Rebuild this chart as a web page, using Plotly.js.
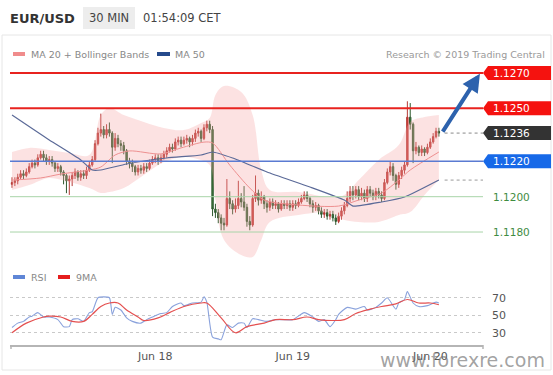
<!DOCTYPE html>
<html><head><meta charset="utf-8">
<script src="https://cdn.plot.ly/plotly-3.0.1.min.js"></script>
<style>html,body{margin:0;padding:0;background:#fff;}#chart{width:553px;height:375px;}</style>
</head><body><div id="chart"></div>
<script>
// ---------- DATA ----------
const candleStart = '2019-06-16 23:00';   // first 30-min candle, then every 30 minutes
const openP = [
1.1207,1.1208,1.1209,1.1211,1.1213,1.1212,1.1214,1.1217,1.1219,1.1218,
1.1222,1.1224,1.1222,1.1220,1.1221,1.1219,1.1216,1.1217,1.1214,1.1212,
1.1209,1.1210,1.1212,1.1214,1.1211,1.1213,1.1212,1.1215,1.1218,1.1221,
1.1230,1.1236,1.1238,1.1235,1.1238,1.1236,1.1228,1.1233,1.1230,1.1229,
1.1226,1.1220,1.1219,1.1217,1.1214,1.1216,1.1215,1.1217,1.1216,1.1219,
1.1221,1.1222,1.1220,1.1222,1.1224,1.1226,1.1228,1.1227,1.1231,1.1232,
1.1230,1.1232,1.1233,1.1231,1.1233,1.1236,1.1237,1.1233,1.1239,1.1241,
1.1238,1.1193,1.1191,1.1188,1.1185,1.1184,1.1199,1.1196,1.1193,1.1195,
1.1199,1.1197,1.1194,1.1186,1.1184,1.1199,1.1202,1.1198,1.1200,1.1196,
1.1194,1.1197,1.1195,1.1196,1.1193,1.1196,1.1195,1.1196,1.1194,1.1196,
1.1195,1.1197,1.1199,1.1201,1.1199,1.1196,1.1194,1.1195,1.1192,1.1190,
1.1191,1.1189,1.1190,1.1188,1.1186,1.1189,1.1192,1.1195,1.1199,1.1203,
1.1201,1.1204,1.1200,1.1202,1.1199,1.1204,1.1202,1.1200,1.1203,1.1201,
1.1199,1.1208,1.1214,1.1217,1.1212,1.1207,1.1212,1.1215,1.1218,1.1245,
1.1241,1.1226,1.1228,1.1225,1.1227,1.1225,1.1228,1.1231,1.1234,1.1237];
const highP = [
1.1211,1.1211,1.1213,1.1215,1.1215,1.1216,1.1219,1.1221,1.1221,1.1224,
1.1226,1.1226,1.1224,1.1223,1.1223,1.1220,1.1219,1.1218,1.1215,1.1213,
1.1212,1.1214,1.1216,1.1215,1.1215,1.1215,1.1217,1.1220,1.1223,1.1232,
1.1239,1.1247,1.1240,1.1241,1.1242,1.1237,1.1236,1.1235,1.1232,1.1231,
1.1227,1.1222,1.1221,1.1218,1.1218,1.1218,1.1219,1.1219,1.1221,1.1223,
1.1224,1.1224,1.1224,1.1226,1.1228,1.1230,1.1230,1.1233,1.1234,1.1234,
1.1234,1.1235,1.1234,1.1235,1.1238,1.1239,1.1238,1.1241,1.1243,1.1243,
1.1240,1.1196,1.1193,1.1190,1.1188,1.1210,1.1203,1.1198,1.1199,1.1209,
1.1202,1.1206,1.1196,1.1189,1.1201,1.1212,1.1204,1.1203,1.1201,1.1198,
1.1199,1.1199,1.1198,1.1197,1.1198,1.1198,1.1198,1.1198,1.1198,1.1198,
1.1199,1.1201,1.1203,1.1203,1.1200,1.1198,1.1197,1.1196,1.1194,1.1193,
1.1193,1.1192,1.1192,1.1190,1.1191,1.1194,1.1197,1.1203,1.1206,1.1206,
1.1206,1.1206,1.1205,1.1204,1.1206,1.1206,1.1204,1.1205,1.1205,1.1203,
1.1210,1.1216,1.1220,1.1219,1.1213,1.1214,1.1217,1.1220,1.1254,1.1253,
1.1242,1.1231,1.1229,1.1229,1.1228,1.1230,1.1233,1.1236,1.1239,1.1239];
const lowP = [
1.1205,1.1206,1.1207,1.1210,1.1210,1.1211,1.1213,1.1216,1.1216,1.1217,
1.1221,1.1220,1.1218,1.1218,1.1217,1.1214,1.1214,1.1212,1.1207,1.1202,
1.1201,1.1206,1.1210,1.1209,1.1209,1.1210,1.1210,1.1214,1.1217,1.1220,
1.1229,1.1234,1.1233,1.1233,1.1234,1.1219,1.1226,1.1228,1.1226,1.1224,
1.1218,1.1216,1.1214,1.1212,1.1212,1.1213,1.1213,1.1214,1.1215,1.1218,
1.1219,1.1218,1.1219,1.1221,1.1222,1.1225,1.1225,1.1226,1.1229,1.1228,
1.1229,1.1230,1.1228,1.1229,1.1231,1.1234,1.1231,1.1232,1.1237,1.1236,
1.1189,1.1188,1.1185,1.1181,1.1181,1.1183,1.1193,1.1190,1.1191,1.1193,
1.1194,1.1192,1.1183,1.1181,1.1183,1.1197,1.1195,1.1196,1.1193,1.1191,
1.1192,1.1193,1.1193,1.1191,1.1192,1.1193,1.1193,1.1192,1.1192,1.1193,
1.1194,1.1196,1.1198,1.1197,1.1194,1.1191,1.1192,1.1190,1.1188,1.1188,
1.1187,1.1187,1.1186,1.1184,1.1185,1.1187,1.1190,1.1194,1.1197,1.1198,
1.1199,1.1198,1.1198,1.1197,1.1197,1.1200,1.1198,1.1198,1.1199,1.1197,
1.1198,1.1207,1.1212,1.1209,1.1204,1.1205,1.1210,1.1213,1.1217,1.1238,
1.1219,1.1224,1.1223,1.1223,1.1223,1.1224,1.1227,1.1230,1.1233,1.1234];
const closeP = [
1.1208,1.1209,1.1211,1.1213,1.1212,1.1214,1.1217,1.1219,1.1218,1.1222,
1.1224,1.1222,1.1220,1.1221,1.1219,1.1216,1.1217,1.1214,1.1212,1.1209,
1.1210,1.1212,1.1214,1.1211,1.1213,1.1212,1.1215,1.1218,1.1221,1.1230,
1.1236,1.1238,1.1235,1.1238,1.1236,1.1228,1.1233,1.1230,1.1229,1.1226,
1.1220,1.1219,1.1217,1.1214,1.1216,1.1215,1.1217,1.1216,1.1219,1.1221,
1.1222,1.1220,1.1222,1.1224,1.1226,1.1228,1.1227,1.1231,1.1232,1.1230,
1.1232,1.1233,1.1231,1.1233,1.1236,1.1237,1.1233,1.1239,1.1241,1.1238,
1.1193,1.1191,1.1188,1.1185,1.1184,1.1199,1.1196,1.1193,1.1195,1.1199,
1.1197,1.1194,1.1186,1.1184,1.1199,1.1202,1.1198,1.1200,1.1196,1.1194,
1.1197,1.1195,1.1196,1.1193,1.1196,1.1195,1.1196,1.1194,1.1196,1.1195,
1.1197,1.1199,1.1201,1.1199,1.1196,1.1194,1.1195,1.1192,1.1190,1.1191,
1.1189,1.1190,1.1188,1.1186,1.1189,1.1192,1.1195,1.1199,1.1203,1.1201,
1.1204,1.1200,1.1202,1.1199,1.1204,1.1202,1.1200,1.1203,1.1201,1.1199,
1.1208,1.1214,1.1217,1.1212,1.1207,1.1212,1.1215,1.1218,1.1245,1.1241,
1.1226,1.1228,1.1225,1.1227,1.1225,1.1228,1.1231,1.1234,1.1237,1.1236];

const bandTime = ['2019-06-16 23:00','2019-06-17 02:00','2019-06-17 05:30','2019-06-17 09:00','2019-06-17 12:30',
 '2019-06-17 14:30','2019-06-17 16:00','2019-06-17 18:30','2019-06-17 22:00','2019-06-18 01:30','2019-06-18 05:00',
 '2019-06-18 08:00','2019-06-18 09:30','2019-06-18 10:30','2019-06-18 12:00','2019-06-18 15:00','2019-06-18 17:00',
 '2019-06-18 18:30','2019-06-18 20:00','2019-06-19 01:00','2019-06-19 06:30','2019-06-19 09:00','2019-06-19 11:30',
 '2019-06-19 15:00','2019-06-19 18:30','2019-06-19 20:30','2019-06-19 23:00','2019-06-20 01:30'];
const bandUpper = [1.12253,1.12276,1.12264,1.12247,1.12236,1.12462,1.12502,1.12462,1.12423,1.12389,1.12377,
 1.12417,1.12445,1.12575,1.12626,1.12592,1.12462,1.12151,1.12038,1.12026,1.11998,1.12010,1.12094,
 1.12208,1.12292,1.12423,1.12451,1.12462];
const bandLower = [1.12038,1.12066,1.12106,1.12083,1.12049,1.12021,1.12026,1.12049,1.12123,1.12196,1.12225,
 1.12208,1.12179,1.11981,1.11755,1.11670,1.11659,1.11755,1.11857,1.11896,1.11908,1.11868,1.11857,
 1.11857,1.11896,1.11913,1.12010,1.12094];

const ma20Time = ['2019-06-16 23:00','2019-06-17 04:00','2019-06-17 07:30','2019-06-17 12:30','2019-06-17 14:30',
 '2019-06-17 17:00','2019-06-17 19:30','2019-06-18 01:00','2019-06-18 04:30','2019-06-18 08:30','2019-06-18 10:00',
 '2019-06-18 13:00','2019-06-18 16:30','2019-06-18 19:00','2019-06-19 01:00','2019-06-19 08:00','2019-06-19 11:30',
 '2019-06-19 15:30','2019-06-19 18:30','2019-06-19 20:30','2019-06-20 01:30'];
const ma20 = [1.12094,1.12106,1.12128,1.12151,1.12168,1.12236,1.12259,1.12242,1.12276,1.12309,1.12304,
 1.12179,1.12049,1.11981,1.11953,1.11947,1.11981,1.12021,1.12094,1.12151,1.12253];

const ma50Time = ['2019-06-16 23:00','2019-06-17 05:30','2019-06-17 11:00','2019-06-17 13:00','2019-06-17 14:30',
 '2019-06-17 19:00','2019-06-18 02:00','2019-06-18 08:00','2019-06-18 10:00','2019-06-18 13:30','2019-06-18 19:30',
 '2019-06-19 03:00','2019-06-19 09:00','2019-06-19 10:30','2019-06-19 15:30','2019-06-19 19:30','2019-06-20 01:30'];
const ma50 = [1.12462,1.12321,1.12208,1.12151,1.12151,1.12185,1.12219,1.12236,1.12253,1.12219,1.12140,
 1.12055,1.11981,1.11947,1.11970,1.11998,1.12094];

const rsiTime = ['2019-06-16 23:00','2019-06-17 00:00','2019-06-17 01:00','2019-06-17 02:00','2019-06-17 02:30',
 '2019-06-17 03:30','2019-06-17 04:30','2019-06-17 05:30','2019-06-17 07:00','2019-06-17 07:30','2019-06-17 08:00',
 '2019-06-17 09:00','2019-06-17 09:30','2019-06-17 10:30','2019-06-17 11:30','2019-06-17 12:30','2019-06-17 13:00',
 '2019-06-17 14:00','2019-06-17 15:00','2019-06-17 16:00','2019-06-17 16:30','2019-06-17 17:00','2019-06-17 18:00',
 '2019-06-17 19:00','2019-06-17 20:00','2019-06-17 21:30','2019-06-17 22:30','2019-06-17 23:30','2019-06-18 01:00',
 '2019-06-18 02:00','2019-06-18 03:00','2019-06-18 04:30','2019-06-18 05:00','2019-06-18 06:30','2019-06-18 08:00',
 '2019-06-18 08:30','2019-06-18 09:00','2019-06-18 10:00','2019-06-18 11:00','2019-06-18 11:30','2019-06-18 12:30',
 '2019-06-18 13:30','2019-06-18 14:30','2019-06-18 15:30','2019-06-18 16:00','2019-06-18 17:00','2019-06-18 18:00',
 '2019-06-18 19:30','2019-06-18 21:00','2019-06-18 22:00','2019-06-19 00:00','2019-06-19 02:00','2019-06-19 03:30',
 '2019-06-19 04:30','2019-06-19 05:30','2019-06-19 06:30','2019-06-19 07:30','2019-06-19 08:00','2019-06-19 09:30',
 '2019-06-19 11:00','2019-06-19 12:30','2019-06-19 13:00','2019-06-19 14:30','2019-06-19 15:30','2019-06-19 16:30',
 '2019-06-19 18:00','2019-06-19 18:30','2019-06-19 19:30','2019-06-19 20:00','2019-06-19 21:00','2019-06-19 22:00',
 '2019-06-19 23:30','2019-06-20 01:00','2019-06-20 01:30'];
const rsi = [36,41,43,48,49,53,48,48,45,41,37,37,45,46,43,53,54,70,71,70,51,59,56,47,43,41,45,48,52,
 53,60,64,61,64,65,71,65,25,23,22,39,36,41,41,36,46,45,43,45,45,45,53,48,43,45,37,45,51,59,
 57,60,56,59,64,70,57,64,68,77,64,60,61,65,64];

const rsiMaTime = ['2019-06-16 23:00','2019-06-17 01:30','2019-06-17 04:30','2019-06-17 05:30','2019-06-17 07:30',
 '2019-06-17 09:30','2019-06-17 11:30','2019-06-17 13:00','2019-06-17 14:30','2019-06-17 16:00','2019-06-17 17:30',
 '2019-06-17 19:00','2019-06-17 21:00','2019-06-17 22:00','2019-06-18 00:30','2019-06-18 02:30','2019-06-18 05:00',
 '2019-06-18 08:00','2019-06-18 09:00','2019-06-18 11:30','2019-06-18 14:00','2019-06-18 16:00','2019-06-18 19:00',
 '2019-06-18 21:00','2019-06-19 00:00','2019-06-19 02:30','2019-06-19 04:30','2019-06-19 07:00','2019-06-19 09:00',
 '2019-06-19 11:00','2019-06-19 13:30','2019-06-19 15:30','2019-06-19 18:00','2019-06-19 20:00','2019-06-19 22:00',
 '2019-06-20 00:00','2019-06-20 01:30'];
const rsiMa = [30,41,48,49,48,43,43,51,60,64,64,56,48,44,47,53,60,64,64,47,30,37,41,45,45,48,45,44,45,
 52,57,60,63,68,64,64,62];

const levels      = [1.1270, 1.1250, 1.1236, 1.1220, 1.1200, 1.1180];
const levelLabels = ['1.1270','1.1250','1.1236','1.1220','1.1200','1.1180'];
const dayTicks  = ['2019-06-18 00:00','2019-06-19 00:00','2019-06-20 00:00'];
const dayLabels = ['Jun 18','Jun 19','Jun 20'];
const rsiTicks  = [30, 50, 70];

// ---------- BUILD ----------
function addMinutes(s, m){
  const d = new Date(s.replace(' ','T') + ':00Z');
  d.setUTCMinutes(d.getUTCMinutes() + m);
  return d.toISOString().slice(0,16).replace('T',' ');
}
const candleTime = closeP.map((_, i) => addMinutes(candleStart, 30*i));
const lastTime = candleTime[candleTime.length-1];

const FONT = 'DejaVu Sans, Verdana, sans-serif';
// pixel helpers for decorations (plot area: x 10..483, y 62..345)
const PL = 10, PR = 483, PT = 62, PB = 345;
const px = x => (x - PL) / (PR - PL);
const py = y => (PB - y) / (PB - PT);
const xRange = [addMinutes(candleStart, -21), addMinutes(candleStart, 4932)];

const traces = [
  {x: bandTime, y: bandLower, type:'scatter', mode:'lines', line:{width:0, shape:'spline', smoothing:1}, hoverinfo:'skip', showlegend:false},
  {x: bandTime, y: bandUpper, type:'scatter', mode:'lines', fill:'tonexty', fillcolor:'rgba(245,160,160,0.30)', line:{width:0, shape:'spline', smoothing:1}, hoverinfo:'skip', showlegend:false},
  {x: ma20Time, y: ma20, type:'scatter', mode:'lines', line:{color:'#ee9090', width:1, shape:'spline', smoothing:0.8}, showlegend:false},
  {x: candleTime, open: openP, high: highP, low: lowP, close: closeP, type:'candlestick',
   increasing:{line:{color:'#b53a36', width:1}, fillcolor:'#d8413c'},
   decreasing:{line:{color:'#2f5a2f', width:1}, fillcolor:'#3b7a3b'},
   whiskerwidth:0, showlegend:false, hoverinfo:'skip'},
  {x: ma50Time, y: ma50, type:'scatter', mode:'lines', line:{color:'#5b6a98', width:1.2, shape:'spline', smoothing:0.5}, showlegend:false},
  {x: rsiTime, y: rsi, type:'scatter', mode:'lines', yaxis:'y2', line:{color:'#8aa2dc', width:1.1, shape:'spline', smoothing:0.6}, showlegend:false},
  {x: rsiMaTime, y: rsiMa, type:'scatter', mode:'lines', yaxis:'y2', line:{color:'#e45050', width:1.2, shape:'spline', smoothing:1}, showlegend:false}
];

const shapes = [];
const annotations = [];
// border of the chart panel
shapes.push({type:'rect', xref:'paper', yref:'paper', x0:px(2), x1:px(551), y0:py(35), y1:py(370), line:{color:'#e6e6e6', width:1}, layer:'below'});
// "30 MIN" box
shapes.push({type:'rect', xref:'paper', yref:'paper', x0:px(83), x1:px(135), y0:py(7), y1:py(29), fillcolor:'#ededed', line:{width:0}, layer:'below'});

const levelStyle = [
  {line:'#e8231f', w:2,   box:'#f5120f', txt:'#ffffff'},
  {line:'#e8231f', w:2,   box:'#f5120f', txt:'#ffffff'},
  {line:null,      w:0,   box:'#333333', txt:'#ffffff'},
  {line:'#5a7bd2', w:1.5, box:'#1769e8', txt:'#ffffff'},
  {line:'#a8d4a8', w:1,   box:null,      txt:'#3f8c3f'},
  {line:'#a8d4a8', w:1,   box:null,      txt:'#3f8c3f'}
];
levels.forEach((lv, k) => {
  const st = levelStyle[k];
  if (st.line) shapes.push({type:'line', xref:'paper', yref:'y', x0:0, x1:1, y0:lv, y1:lv, line:{color:st.line, width:st.w}});
  if (st.box) shapes.push({type:'path', xref:'paper', yref:'y', xsizemode:'pixel', ysizemode:'pixel', xanchor:1, yanchor:lv,
     path:'M0,0 L5,7 L68,7 L68,-7 L5,-7 Z', fillcolor:st.box, line:{width:0}});
  annotations.push({xref:'paper', yref:'y', x:1, y:lv, xshift:28, xanchor:'center', yanchor:'middle', showarrow:false,
     text:levelLabels[k], font:{family:FONT, size:10.5, color:st.txt}});
});
// dotted guides from last candle (last close, last MA50)
shapes.push({type:'line', xref:'x', yref:'y', x0:addMinutes(lastTime,60), x1:xRange[1], y0:closeP[closeP.length-1], y1:closeP[closeP.length-1], line:{color:'#888', width:1, dash:'dot'}});
shapes.push({type:'line', xref:'x', yref:'y', x0:addMinutes(lastTime,60), x1:xRange[1], y0:ma50[ma50.length-1], y1:ma50[ma50.length-1], line:{color:'#999', width:1, dash:'dot'}});
// x-axis end ticks
[PL+1, PR].forEach(xx => shapes.push({type:'line', xref:'paper', yref:'paper', x0:px(xx), x1:px(xx), y0:py(345), y1:py(349), line:{color:'#b5b5b5', width:1.5}}));

// target arrow: from last close towards the 1.1270 target
annotations.push({xref:'x', yref:'y', axref:'x', ayref:'y', x:addMinutes(lastTime,430), y:levels[0]-0.00004,
   ax:addMinutes(lastTime,30), ay:closeP[closeP.length-1], text:'', showarrow:true, arrowhead:2, arrowsize:0.9,
   arrowwidth:4, arrowcolor:'#2d62ad', standoff:0, startstandoff:0});

// header + legends
const txt = (x, y, t, size, color, anchor, extra) => Object.assign({xref:'paper', yref:'paper', x:px(x), y:py(y), text:t,
   showarrow:false, xanchor:anchor||'left', yanchor:'middle', font:{family:FONT, size:size, color:color}}, extra||{});
annotations.push(txt(8, 18, '<b>EUR/USD</b>', 13, '#333'));
annotations.push(txt(109, 18, '30 MIN', 11.5, '#444', 'center'));
annotations.push(txt(141, 18, '01:54:09 CET', 11.5, '#444'));
annotations.push(txt(29, 54, 'MA 20 + Bollinger Bands', 9.5, '#888'));
annotations.push(txt(173, 54, 'MA 50', 9.5, '#888'));
annotations.push(txt(547, 54, 'Research © 2019 Trading Central', 9.5, '#999', 'right'));
annotations.push(txt(29, 277, 'RSI', 9.5, '#888'));
annotations.push(txt(74, 277, '9MA', 9.5, '#888'));
annotations.push(txt(462, 360, 'www.forexre.com', 19, 'rgba(110,110,110,0.65)', 'center'));
const swatch = (x0, x1, y, color) => shapes.push({type:'rect', xref:'paper', yref:'paper', x0:px(x0), x1:px(x1), y0:py(y+2), y1:py(y-2), fillcolor:color, line:{width:0}});
swatch(13, 25, 54, '#f08c8c');
swatch(157, 170, 54, '#254a8c');
swatch(13, 25, 277, '#5f86d6');
swatch(58, 70, 277, '#e51d1d');

const layout = {
  width:553, height:375, margin:{l:PL, r:553-PR, t:PT, b:375-PB},
  paper_bgcolor:'#ffffff', plot_bgcolor:'#ffffff', showlegend:false, hovermode:false,
  font:{family:FONT, color:'#555'},
  xaxis:{type:'date', anchor:'y2', range:xRange, rangeslider:{visible:false}, showgrid:false, zeroline:false,
    showline:true, linecolor:'#b5b5b5', linewidth:2, tickvals:dayTicks, ticktext:dayLabels, ticks:'',
    tickfont:{family:FONT, size:11, color:'#555'}},
  yaxis:{domain:[py(262), 1], range:[1.116304, 1.127623], visible:false, showgrid:false, zeroline:false},
  yaxis2:{domain:[0, py(283.75)], range:[16, 86], side:'right', tickvals:rsiTicks, showgrid:true, gridcolor:'#c9c9c9',
    griddash:'dot', gridwidth:1, zeroline:false, showline:false, ticks:'', ticklabelstandoff:8,
    tickfont:{family:FONT, size:11, color:'#555'}},
  shapes:shapes, annotations:annotations
};
Plotly.newPlot('chart', traces, layout, {staticPlot:true, displayModeBar:false});
</script></body></html>
